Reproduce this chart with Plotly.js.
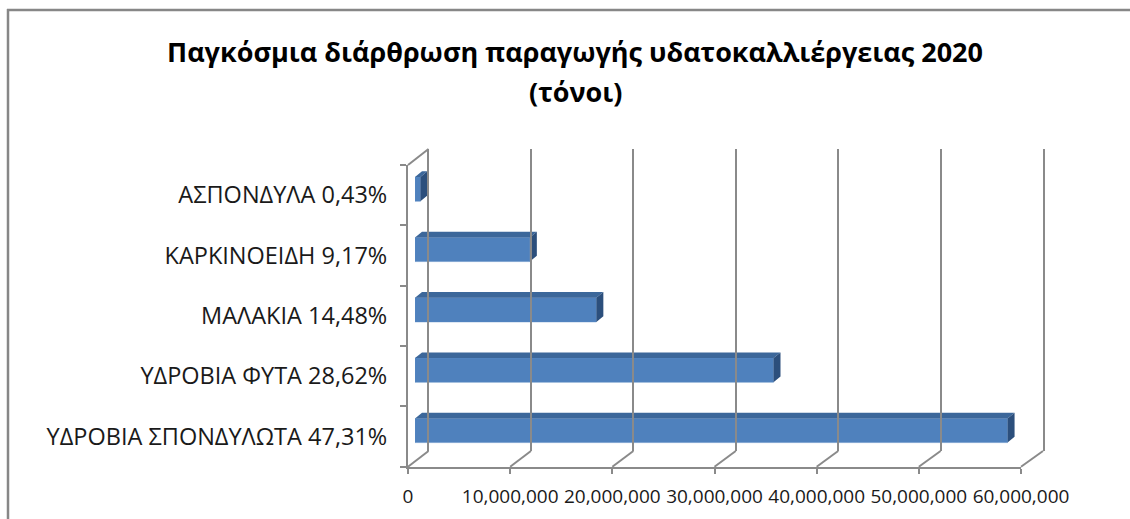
<!DOCTYPE html>
<html>
<head>
<meta charset="utf-8">
<script src="https://cdn.plot.ly/plotly-3.0.1.min.js"></script>
<style>
  html, body { margin: 0; padding: 0; background: #ffffff; overflow: hidden; }
  #chart { width: 1130px; height: 519px; }
</style>
</head>
<body>
<div id="chart"></div>
<script>
// ---- data (bottom category first, as in the source chart) ----
const categories = ['ΥΔΡΟΒΙΑ ΣΠΟΝΔΥΛΩΤΑ', 'ΥΔΡΟΒΙΑ ΦΥΤΑ', 'ΜΑΛΑΚΙΑ', 'ΚΑΡΚΙΝΟΕΙΔΗ', 'ΑΣΠΟΝΔΥΛΑ'];
const shares = ['47,31%', '28,62%', '14,48%', '9,17%', '0,43%'];
const tonnes = [58000000, 35090000, 17750000, 11240000, 530000];
const xTickValues = [0, 10000000, 20000000, 30000000, 40000000, 50000000, 60000000];
const titleLine1 = 'Παγκόσμια διάρθρωση παραγωγής υδατοκαλλιέργειας 2020';
const titleLine2 = '(τόνοι)';

const labels = categories.map((c, i) => c + ' ' + shares[i]);
const positions = categories.map((c, i) => i);

// ---- layout geometry (pixels) ----
const W = 1130, H = 519;
const px = v => v / W;
const py = v => (H - v) / H;
const xMax = 60000000;
// front plane, bar plane, back wall
const front = { x0: 408, x1: 1021, yTop: 165, yBot: 466.7 };
const barPl = { x0: 415, x1: 1028, yTop: 159, yBot: 460.7 };
const back  = { x0: 428.5, x1: 1043, yTop: 149, yBot: 451 };

const grey = '#8a8a8a';
const dxData = 7 * xMax / (barPl.x1 - barPl.x0);
const dyData = 0.095;
const halfW = 0.2;

// 3D faces of each bar, built from the values
const topX = [], topY = [], sideX = [], sideY = [];
tonnes.forEach((v, i) => {
  topX.push(0, v, v + dxData, dxData, 0, null);
  topY.push(i + halfW, i + halfW, i + halfW + dyData, i + halfW + dyData, i + halfW, null);
  sideX.push(v, v, v + dxData, v + dxData, v, null);
  sideY.push(i - halfW, i + halfW, i + halfW + dyData, i - halfW + dyData, i - halfW, null);
});

const traces = [
  { type: 'bar', orientation: 'h', x: tonnes, y: positions, xaxis: 'x2', yaxis: 'y2',
    marker: { color: '#4f81bd', line: { color: '#5a8ac4', width: 0.5 } },
    hoverinfo: 'skip', showlegend: false },
  { type: 'scatter', mode: 'lines', x: topX, y: topY, xaxis: 'x2', yaxis: 'y2',
    fill: 'toself', fillcolor: '#3c679a', line: { width: 0, color: '#3c679a' },
    hoverinfo: 'skip', showlegend: false },
  { type: 'scatter', mode: 'lines', x: sideX, y: sideY, xaxis: 'x2', yaxis: 'y2',
    fill: 'toself', fillcolor: '#2c4f7c', line: { width: 0, color: '#2c4f7c' },
    hoverinfo: 'skip', showlegend: false },
  // invisible trace to set up the front category axis
  { type: 'bar', orientation: 'h', x: labels.map(() => 0), y: labels, xaxis: 'x', yaxis: 'y',
    marker: { color: 'rgba(0,0,0,0)' }, hoverinfo: 'skip', showlegend: false },
  // invisible trace for the back wall axes
  { type: 'scatter', mode: 'markers', x: [0], y: [0], xaxis: 'x3', yaxis: 'y3',
    marker: { opacity: 0 }, hoverinfo: 'skip', showlegend: false }
];

// floor diagonals and wall edges
const shapes = [];
xTickValues.forEach(v => {
  const f = front.x0 + (front.x1 - front.x0) * v / xMax;
  const b = back.x0 + (back.x1 - back.x0) * v / xMax;
  shapes.push({ type: 'line', xref: 'paper', yref: 'paper',
    x0: px(f), y0: py(front.yBot), x1: px(b), y1: py(back.yBot),
    line: { color: grey, width: 2 } });
});
shapes.push({ type: 'line', xref: 'paper', yref: 'paper',
  x0: px(front.x0), y0: py(front.yTop), x1: px(back.x0), y1: py(back.yTop),
  line: { color: grey, width: 2 } });
// outer chart frame: left and top edges (the rest lies outside the picture)
shapes.push({ type: 'line', xref: 'paper', yref: 'paper',
  x0: px(8), y0: py(9), x1: px(8), y1: 0,
  line: { color: '#878787', width: 2.5 }, layer: 'below' });
shapes.push({ type: 'line', xref: 'paper', yref: 'paper',
  x0: px(7), y0: py(10), x1: 1, y1: py(10),
  line: { color: '#878787', width: 2.5 }, layer: 'below' });

const fontFam = '"Open Sans", "Noto Sans", sans-serif';

const layout = {
  width: W, height: H,
  margin: { l: 0, r: 0, t: 0, b: 0, pad: 0 },
  paper_bgcolor: '#ffffff', plot_bgcolor: 'rgba(0,0,0,0)',
  showlegend: false,
  bargap: 0.6,
  font: { family: fontFam, color: '#1a1a1a' },
  title: { text: '<b>' + titleLine1 + '</b>', x: px(575), xanchor: 'center',
           y: py(53), yanchor: 'middle', font: { size: 27, family: fontFam, color: '#000000' } },
  annotations: [
    { text: '<b>' + titleLine2 + '</b>', xref: 'paper', yref: 'paper', x: px(575), y: py(92),
      xanchor: 'center', yanchor: 'middle', showarrow: false,
      font: { size: 27, family: fontFam, color: '#000000' } }
  ],
  // front plane axes
  xaxis: { domain: [px(front.x0), px(front.x1)], range: [0, xMax], anchor: 'y',
    tickvals: xTickValues, tickformat: ',', ticks: 'outside', ticklen: 5, tickwidth: 2,
    tickcolor: grey, showline: true, linecolor: grey, linewidth: 2, showgrid: false,
    zeroline: false, ticklabelstandoff: 6,
    tickfont: { size: 19, family: fontFam, color: '#1a1a1a' }, fixedrange: true },
  yaxis: { domain: [py(front.yBot), py(front.yTop)], type: 'category', anchor: 'x',
    range: [-0.5, 4.5], tickson: 'boundaries', ticks: 'outside', ticklen: 6, tickwidth: 2,
    tickcolor: grey, showline: true, linecolor: grey, linewidth: 2, showgrid: false,
    zeroline: false, ticklabelstandoff: 14,
    tickfont: { size: 23.5, family: fontFam, color: '#1a1a1a' }, fixedrange: true },
  // bar plane axes
  xaxis2: { domain: [px(barPl.x0), px(barPl.x1)], range: [0, xMax], anchor: 'y2',
    visible: false, fixedrange: true },
  yaxis2: { domain: [py(barPl.yBot), py(barPl.yTop)], range: [-0.5, 4.5], anchor: 'x2',
    visible: false, fixedrange: true },
  // back wall axes (gridlines)
  xaxis3: { domain: [px(back.x0), px(back.x1)], range: [0, xMax], anchor: 'y3',
    tickvals: xTickValues, showticklabels: false, ticks: '', showgrid: true,
    gridcolor: grey, gridwidth: 2, zeroline: false, showline: false, fixedrange: true },
  yaxis3: { domain: [py(back.yBot), py(back.yTop)], range: [0, 1], anchor: 'x3',
    showticklabels: false, ticks: '', showgrid: false, zeroline: false,
    showline: true, mirror: true, linecolor: grey, linewidth: 2, fixedrange: true },
  shapes: shapes
};

Plotly.newPlot('chart', traces, layout, { displayModeBar: false, staticPlot: true });
</script>
</body>
</html>
